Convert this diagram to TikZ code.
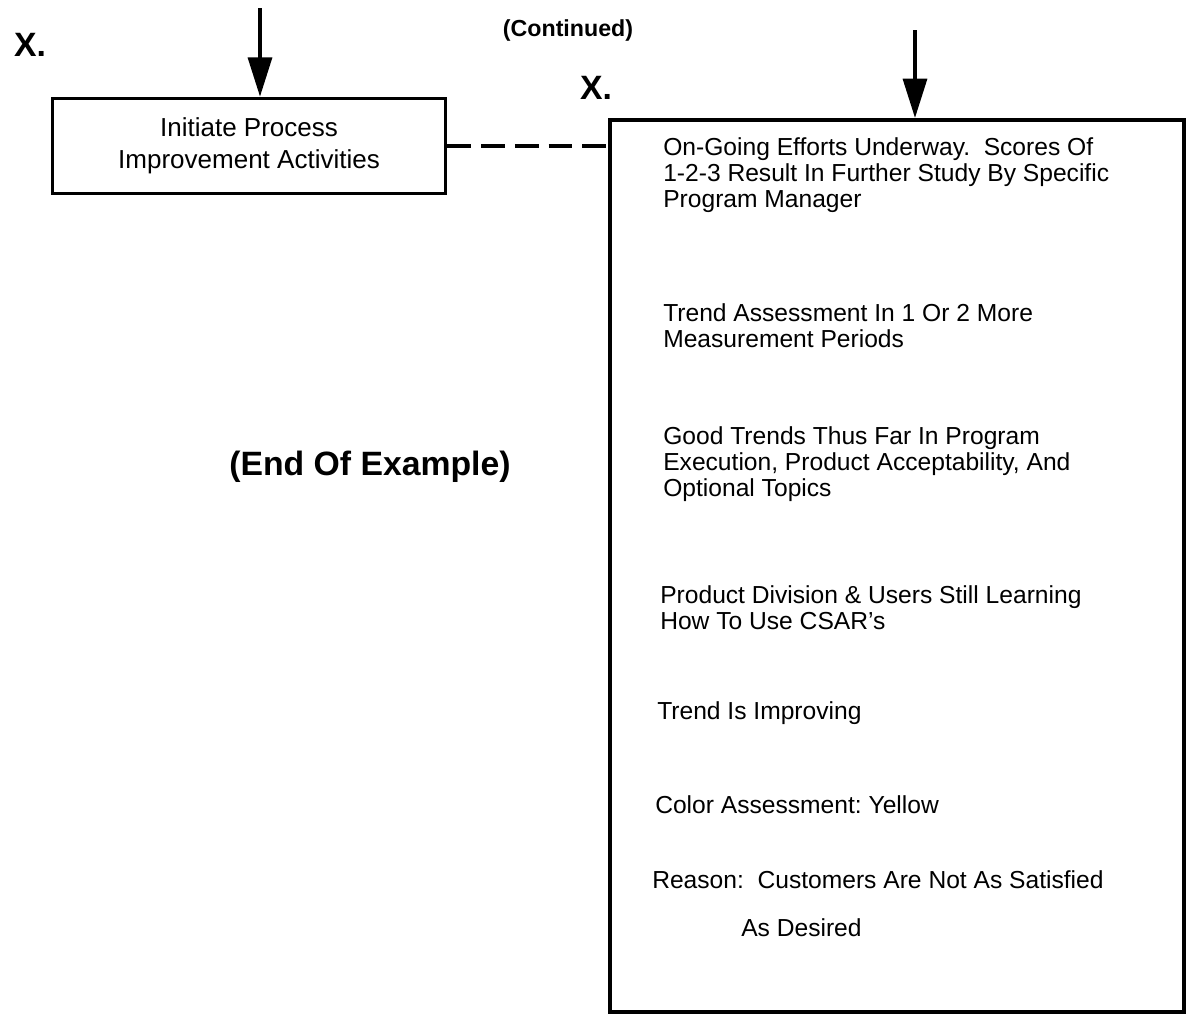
\documentclass[tikz,border=0pt]{standalone}
\usepackage{fontspec}
\setmainfont{Liberation Sans}
\usetikzlibrary{arrows.meta}
\frenchspacing
\begin{document}
\begin{tikzpicture}[x=0.025cm,y=-0.025cm,
  heavy/.style={line width=2.6pt},
  downarrow/.style={line width=2.6pt,-{Triangle[length=28pt,width=17pt]}},
  boxtext/.style={anchor=north west,inner sep=0pt,align=left,
    font=\fontsize{17.5pt}{18.5pt}\selectfont},
  marker/.style={inner sep=0pt,font=\fontsize{24pt}{26pt}\selectfont\bfseries}]
\useasboundingbox (0,0) rectangle (1186,1021);

% section markers and heading
\node[marker] (xl) at (30,45) {X.};
\node[marker] (xr) at (596,88) {X.};
\node[inner sep=0pt,font=\fontsize{16.5pt}{18pt}\selectfont\bfseries] (cont) at (568,30) {(Continued)};

% left action box
\node[draw,heavy,minimum width=393*0.025cm,minimum height=95*0.025cm,
  align=center,inner sep=0pt,font=\fontsize{18.5pt}{23pt}\selectfont] (lbox) at (249,146)
  {Initiate Process\\Improvement Activities};

% right status box
\node[draw,heavy,anchor=north west,minimum width=574*0.025cm,minimum height=892*0.025cm,
  inner sep=0pt] (rbox) at (608,118) {};

% incoming arrows
\coordinate (la) at (260,8);
\coordinate (ra) at (915,30);
\draw[downarrow] (la) -- (la |- lbox.north);
\draw[downarrow] (ra) -- (ra |- rbox.north);

% link between the boxes
\draw[heavy,dash pattern=on 17pt off 7pt] (lbox.east) -- (lbox.east -| rbox.west);

\node[font=\fontsize{24pt}{26pt}\selectfont\bfseries,inner sep=0pt] (end) at (370,467) {(End Of Example)};

% status entries
\node[boxtext] (t1) at (663,137) {On-Going Efforts Underway.\ \ Scores Of\\1-2-3 Result In Further Study By Specific\\Program Manager};
\node[boxtext] (t2) at (663,303) {Trend Assessment In 1 Or 2 More\\Measurement Periods};
\node[boxtext] (t3) at (663,426) {Good Trends Thus Far In Program\\Execution, Product Acceptability, And\\Optional Topics};
\node[boxtext] (t4) at (660,585) {Product Division \& Users Still Learning\\How To Use CSAR's};
\node[boxtext] (t5) at (657,701) {Trend Is Improving};
\node[boxtext] (t6) at (655,795) {Color Assessment: Yellow};
\node[boxtext] (t7) at (652,870) {Reason:\ \ Customers Are Not As Satisfied};
\node[boxtext] (t7b) at (741,918) {As Desired};
\end{tikzpicture}
\end{document}
